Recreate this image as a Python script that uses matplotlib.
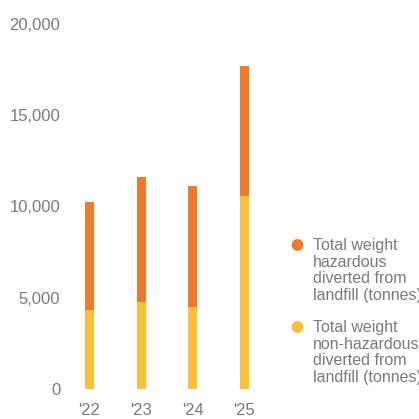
import matplotlib
matplotlib.use("Agg")
import matplotlib.pyplot as plt
from matplotlib.patches import Circle

# Waste diverted from landfill by fiscal year (tonnes)
years = ["'22", "'23", "'24", "'25"]
non_hazardous = [4300, 4750, 4500, 10550]
hazardous = [5950, 6850, 6600, 7150]
series_labels = [
    "Total weight\nhazardous\ndiverted from\nlandfill (tonnes)",
    "Total weight\nnon-hazardous\ndiverted from\nlandfill (tonnes)",
]
y_ticks = [0, 5000, 10000, 15000, 20000]

ORANGE = "#EE7A2A"
YELLOW = "#FBBF3A"
GREY = "#7a7a7a"

plt.rcParams["font.family"] = ["Liberation Sans", "DejaVu Sans"]

W = H = 419
fig = plt.figure(figsize=(W / 100, H / 100), dpi=100)
ax = fig.add_axes([70 / W, (H - 389) / H, (265 - 70) / W, (389 - 23.8) / H])

x = list(range(len(years)))
bw = 0.174
ax.bar(x, non_hazardous, width=bw, color=YELLOW, linewidth=0)
ax.bar(x, hazardous, width=bw, bottom=non_hazardous, color=ORANGE, linewidth=0)

ax.set_xlim(-0.377, 3.397)
ax.set_ylim(0, 20000)
ax.set_yticks(y_ticks)
ax.set_yticklabels([f"{v:,}" for v in y_ticks])
ax.set_xticks(x)
ax.set_xticklabels(years)
ax.tick_params(axis="both", length=0, labelsize=12, colors=GREY)
ax.tick_params(axis="y", pad=7)
ax.tick_params(axis="x", pad=10)
for lbl in ax.get_yticklabels():
    lbl.set_va("center_baseline")
for s in ax.spines.values():
    s.set_visible(False)

# Legend with round markers
for (cy, col, lab) in [(245, ORANGE, series_labels[0]), (327, YELLOW, series_labels[1])]:
    fig.patches.append(Circle((297.5 / W, (H - cy) / H), 5.2 / W, color=col,
                              transform=fig.transFigure, figure=fig))
    fig.text(313 / W, (H - cy + 7) / H, lab, fontsize=11.5, color=GREY,
             va="top", ha="left", linespacing=1.14)

fig.savefig("out.png", dpi=100)
